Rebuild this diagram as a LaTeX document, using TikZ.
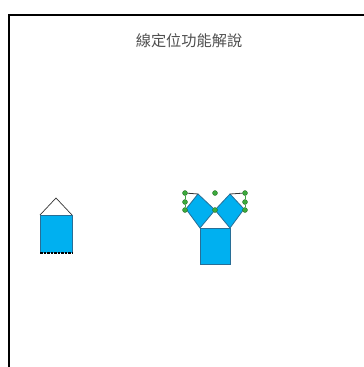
\documentclass[tikz,border=0pt]{standalone}
\usepackage{fontspec}
\newfontfamily\cjk{Noto Sans CJK TC}
\definecolor{boxfill}{RGB}{0,176,240}
\definecolor{boxline}{RGB}{40,110,150}
\definecolor{handle}{RGB}{60,170,60}
\definecolor{titlegray}{RGB}{80,80,80}
\begin{document}
\begin{tikzpicture}[x=1pt,y=-1pt,
  shapebox/.style={fill=boxfill,draw=boxline,line width=0.8pt},
  frame/.style={line width=2pt,black},
  handledot/.style={circle,fill=handle,draw=handle!60!black,line width=0.3pt,inner sep=0pt,minimum size=5pt},
  guide/.style={line width=0.8pt,black!80}]
\useasboundingbox (0,0) rectangle (364,367);
% frame
\draw[frame] (9,367) -- (9,15) -- (364,15);
% title
\node[text=titlegray,font=\cjk\fontsize{15.2}{18}\selectfont] (title) at (189,41) {線定位功能解說};
% left shape
\coordinate (a1) at (40,215);
\coordinate (a2) at (72,215);
\coordinate (a3) at (72,253);
\coordinate (a4) at (40,253);
\coordinate (apex) at (56,198);
\draw[line width=0.7pt,black!80] (a1) -- (apex) -- (a2);
\fill[boxfill] (a1) rectangle (a3);
\draw[boxline,line width=0.6pt] (a4) -- (a1) -- (a2) -- (a3);
\draw[black,line width=1.3pt,dash pattern=on 2.5pt off 1pt] (a4) -- (a3);
% right shape
\coordinate (s1) at (200,228);
\coordinate (s2) at (230,228);
\coordinate (s3) at (230,264);
\coordinate (s4) at (200,264);
\draw[shapebox] (s1) rectangle (s3);
\coordinate (m) at (215,210);
\coordinate (lt) at (198,194);
\coordinate (ll) at (186,209);
\coordinate (rt) at (230,194);
\coordinate (rr) at (244,209);
\draw[shapebox] (m) -- (lt) -- (ll) -- (s1) -- cycle;
\draw[shapebox] (m) -- (rt) -- (rr) -- (s2) -- cycle;
% handles
\node[handledot] (h1) at (185,193) {};
\node[handledot] (h2) at (185,202) {};
\node[handledot] (h3) at (185,210) {};
\node[handledot] (h4) at (245,193) {};
\node[handledot] (h5) at (245,202) {};
\node[handledot] (h6) at (245,210) {};
\node[handledot] (hc) at (215,193) {};
\node[handledot] (hm) at (215,210) {};
\draw[guide] (h1) -- (lt);
\draw[guide] (h4) -- (rt);
\draw[handle,line width=0.5pt] (h1) -- (h2) -- (h3);
\draw[handle,line width=0.5pt] (h4) -- (h5) -- (h6);
\end{tikzpicture}
\end{document}
